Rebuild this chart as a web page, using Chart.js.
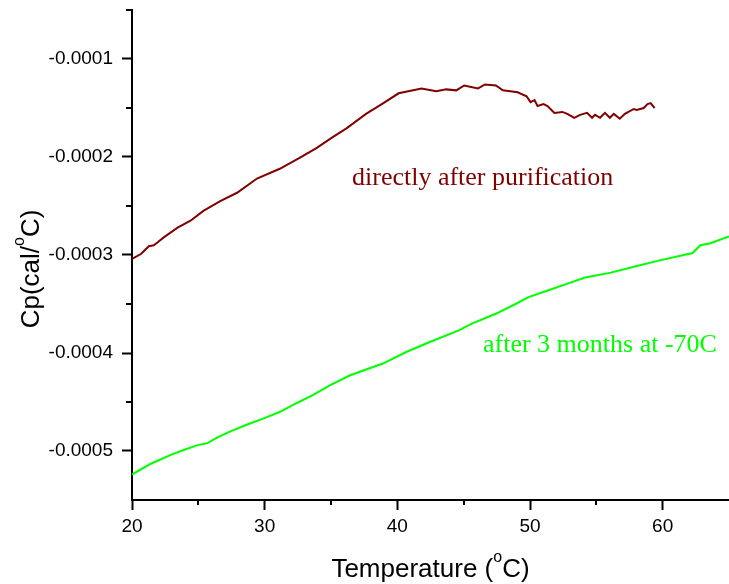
<!DOCTYPE html>
<html>
<head>
<meta charset="utf-8">
<script src="https://cdn.jsdelivr.net/npm/chart.js@4.4.0/dist/chart.umd.min.js"></script>
<style>
  html, body { margin: 0; padding: 0; background: #fff; }
</style>
</head>
<body>
<canvas id="cpChart" width="729" height="584"></canvas>
<script>
// Muestra recién purificada: temperatura (°C) y Cp (cal/°C)
const freshTemp = [20, 20.67, 21.27, 21.64, 21.94, 22.39, 23.44, 24.41, 25.38, 26.65, 27.92, 29.42, 31.14, 32.63, 33.90, 35.10, 36.14, 37.64, 38.83, 40.10, 41.82, 42.94, 43.69, 44.44, 45.04, 46.08, 46.61, 47.43, 47.95, 49.07, 49.74, 50.04, 50.34, 50.57, 51.02, 51.32, 51.84, 52.44, 52.81, 53.33, 53.78, 54.30, 54.68, 54.90, 55.28, 55.65, 56.02, 56.32, 56.77, 57.15, 57.82, 58.04, 58.57, 58.86, 59.09, 59.39];
const freshCp = [-0.000304, -0.000299, -0.000291, -0.000290, -0.000287, -0.000282, -0.000272, -0.000265, -0.000255, -0.000245, -0.0002365, -0.000222, -0.000212, -0.000201, -0.000191, -0.000180, -0.000171, -0.000156, -0.000146, -0.000135, -0.000130, -0.000133, -0.000131, -0.000132, -0.000127, -0.000130, -0.000126, -0.000127, -0.000132, -0.000134, -0.000138, -0.000144, -0.000142, -0.000148, -0.000146, -0.000148, -0.000155, -0.000154, -0.000156, -0.000160, -0.000157, -0.000155, -0.000160, -0.000157, -0.000160, -0.000155, -0.000160, -0.000156, -0.000161, -0.000156, -0.000151, -0.000152, -0.000150, -0.000146, -0.000145, -0.000150];

// La misma muestra tras 3 meses a -70C
const storedTemp = [20, 21.42, 22.92, 23.90, 24.94, 25.69, 26.44, 27.42, 28.69, 29.89, 31.16, 32.43, 33.63, 34.91, 36.40, 38.43, 38.88, 40.67, 42.40, 44.64, 45.62, 47.42, 48.91, 49.89, 51.39, 52.88, 54.16, 56.10, 58.13, 59.63, 62.25, 62.85, 63.60, 65];
const storedCp = [-0.000524, -0.000513, -0.000504, -0.000499, -0.000494, -0.000492, -0.000486, -0.000480, -0.000473, -0.000467, -0.000460, -0.000451, -0.000443, -0.000433, -0.000423, -0.000413, -0.000411, -0.000399, -0.000389, -0.000377, -0.000370, -0.000360, -0.000350, -0.000343, -0.000336, -0.000329, -0.000323, -0.000318, -0.000311, -0.000306, -0.000298, -0.000290, -0.000288, -0.000281];

// Marcas de los ejes
const xTickValues = [20, 30, 40, 50, 60];
const xMinorValues = [25, 35, 45, 55];
const yTickValues = [-0.0005, -0.0004, -0.0003, -0.0002, -0.0001];
const yMinorValues = [-0.00045, -0.00035, -0.00025, -0.00015, -0.00005];

const toPoints = (xs, ys) => xs.map((x, i) => ({ x: x, y: ys[i] }));

// Texto con una "o" volada como símbolo de grados
function drawDegreeText(ctx, before, after, x, y, size) {
    const base = size + 'px "Liberation Sans", Arial, sans-serif';
    const sup = Math.round(size * 0.6) + 'px "Liberation Sans", Arial, sans-serif';
    ctx.font = base;
    const w1 = ctx.measureText(before).width;
    const w3 = ctx.measureText(after).width;
    ctx.font = sup;
    const w2 = ctx.measureText('o').width;
    let left = x - (w1 + w2 + w3) / 2;
    ctx.textAlign = 'left';
    ctx.textBaseline = 'alphabetic';
    ctx.font = base;
    ctx.fillText(before, left, y);
    ctx.font = sup;
    ctx.fillText('o', left + w1, y - size * 0.56);
    ctx.font = base;
    ctx.fillText(after, left + w1 + w2, y);
}

// Marcas menores, títulos de ejes y rótulos de las curvas
const decorations = {
    id: 'decorations',
    afterDraw(chart) {
        const { ctx, chartArea } = chart;
        const x = chart.scales.x;
        const y = chart.scales.y;
        ctx.save();
        ctx.strokeStyle = '#000';
        ctx.lineWidth = 2;
        ctx.beginPath();
        xMinorValues.forEach(v => {
            const px = Math.round(x.getPixelForValue(v));
            ctx.moveTo(px, chartArea.bottom);
            ctx.lineTo(px, chartArea.bottom + 5);
        });
        yMinorValues.forEach(v => {
            const py = Math.round(y.getPixelForValue(v));
            ctx.moveTo(chartArea.left, py);
            ctx.lineTo(chartArea.left - 6, py);
        });
        ctx.stroke();

        ctx.fillStyle = '#000';
        drawDegreeText(ctx, 'Temperature (', 'C)', (chartArea.left + chartArea.right) / 2, 577, 26);

        ctx.save();
        ctx.translate(39, 269);
        ctx.rotate(-Math.PI / 2);
        drawDegreeText(ctx, 'Cp(cal/', 'C)', 0, 0, 26);
        ctx.restore();

        ctx.font = '26px "Liberation Serif", "Times New Roman", serif';
        ctx.textAlign = 'left';
        ctx.textBaseline = 'alphabetic';
        ctx.fillStyle = '#800000';
        ctx.fillText('directly after purification', 352, 185);
        ctx.fillStyle = '#00ff00';
        ctx.fillText('after 3 months at -70C', 483, 352);
        ctx.restore();
    }
};

const ctx = document.getElementById('cpChart').getContext('2d');
new Chart(ctx, {
    type: 'scatter',
    data: {
        datasets: [{
            label: 'directly after purification',
            data: toPoints(freshTemp, freshCp),
            showLine: true,
            borderColor: '#800000',
            borderWidth: 2,
            pointRadius: 0,
            tension: 0
        }, {
            label: 'after 3 months at -70C',
            data: toPoints(storedTemp, storedCp),
            showLine: true,
            borderColor: '#00ff00',
            borderWidth: 2,
            pointRadius: 0,
            tension: 0
        }]
    },
    options: {
        responsive: false,
        animation: false,
        layout: { padding: { top: 10, right: 0, left: 0, bottom: 0 } },
        plugins: {
            legend: { display: false },
            tooltip: { enabled: false }
        },
        scales: {
            x: {
                type: 'linear',
                min: 20,
                max: 65,
                afterBuildTicks: s => { s.ticks = xTickValues.map(v => ({ value: v })); },
                afterFit: s => { s.height = 84; s.paddingRight = 0; s.paddingLeft = 0; },
                grid: { drawOnChartArea: false, color: '#000', tickLength: 10, tickWidth: 2 },
                border: { display: true, color: '#000', width: 2 },
                ticks: {
                    color: '#000',
                    font: { family: '"Liberation Sans", Arial, sans-serif', size: 19 },
                    padding: 5,
                    maxRotation: 0,
                    autoSkip: false
                }
            },
            y: {
                type: 'linear',
                min: -0.00055,
                max: -0.00005,
                afterBuildTicks: s => { s.ticks = yTickValues.map(v => ({ value: v })); },
                afterFit: s => { s.width = 132; s.paddingTop = 0; s.paddingBottom = 0; },
                grid: { drawOnChartArea: false, color: '#000', tickLength: 10, tickWidth: 2 },
                border: { display: true, color: '#000', width: 2 },
                ticks: {
                    color: '#000',
                    font: { family: '"Liberation Sans", Arial, sans-serif', size: 19 },
                    padding: 9,
                    autoSkip: false,
                    callback: v => v.toFixed(4)
                }
            }
        }
    },
    plugins: [decorations]
});
</script>
</body>
</html>
